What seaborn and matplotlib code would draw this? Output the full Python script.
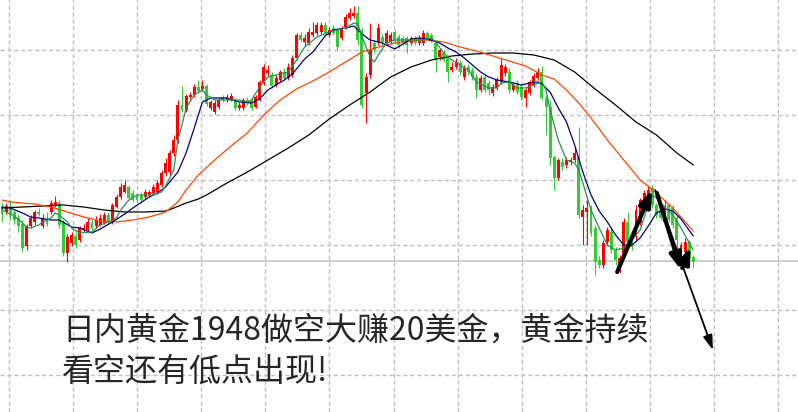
import numpy as np
import pandas as pd
import matplotlib
matplotlib.use("Agg")
import matplotlib.pyplot as plt
import seaborn as sns

# candle data (index = bar number)
opens = [1793, 1788, 1794, 1788, 1782, 1776, 1754, 1774, 1778, 1788,
         1774, 1782, 1788, 1795, 1797, 1778, 1747, 1757, 1764, 1760,
         1770, 1770, 1777, 1774, 1775, 1777, 1785, 1778, 1793, 1803,
         1808, 1813, 1807, 1805, 1805, 1803, 1805, 1807, 1808, 1815,
         1827, 1828, 1847, 1860, 1895, 1890, 1903, 1905, 1913, 1911,
         1914, 1892, 1888, 1893, 1903, 1900, 1900, 1900, 1892, 1892,
         1900, 1900, 1893, 1900, 1917, 1927, 1925, 1915, 1920, 1928,
         1922, 1925, 1942, 1965, 1958, 1957, 1965, 1967, 1968, 1975,
         1965, 1972, 1970, 1962, 1973, 1982, 1984, 1987, 1970, 1907,
         1925, 1957, 1958, 1963, 1957, 1958, 1968, 1963, 1962, 1962,
         1957, 1962, 1957, 1957, 1967, 1965, 1957, 1943, 1947, 1943,
         1930, 1933, 1937, 1923, 1933, 1930, 1923, 1910, 1923, 1917,
         1907, 1912, 1918, 1927, 1928, 1910, 1917, 1913, 1902, 1907,
         1915, 1922, 1928, 1902, 1893, 1843, 1822, 1838, 1835, 1838,
         1840, 1843, 1783, 1788, 1793, 1772, 1740, 1735, 1758, 1768,
         1750, 1733, 1745, 1778, 1765, 1763, 1777, 1793, 1800, 1812,
         1795, 1790, 1778, 1795, 1792, 1782, 1745, 1748, 1758, 1743]
closes = [1786, 1794, 1786, 1780, 1774, 1752, 1774, 1782, 1788, 1786,
          1781, 1776, 1797, 1798, 1775, 1747, 1763, 1765, 1755, 1772,
          1772, 1778, 1772, 1780, 1782, 1785, 1778, 1795, 1803, 1813,
          1815, 1802, 1800, 1800, 1800, 1808, 1808, 1813, 1817, 1827,
          1837, 1847, 1860, 1895, 1890, 1904, 1905, 1913, 1909, 1914,
          1896, 1898, 1897, 1900, 1900, 1903, 1904, 1892, 1895, 1900,
          1897, 1892, 1903, 1918, 1933, 1930, 1914, 1922, 1928, 1922,
          1933, 1942, 1965, 1960, 1962, 1968, 1968, 1975, 1975, 1967,
          1970, 1967, 1953, 1972, 1983, 1987, 1987, 1960, 1895, 1923,
          1950, 1950, 1972, 1958, 1967, 1965, 1960, 1955, 1958, 1955,
          1962, 1957, 1962, 1967, 1962, 1960, 1940, 1950, 1940, 1928,
          1933, 1938, 1928, 1932, 1928, 1923, 1910, 1922, 1910, 1910,
          1913, 1920, 1935, 1933, 1910, 1915, 1908, 1903, 1910, 1918,
          1924, 1928, 1902, 1893, 1842, 1822, 1840, 1833, 1840, 1840,
          1847, 1785, 1790, 1792, 1767, 1738, 1735, 1757, 1770, 1750,
          1740, 1742, 1778, 1758, 1753, 1790, 1800, 1807, 1810, 1795,
          1785, 1782, 1793, 1780, 1775, 1760, 1755, 1758, 1742, 1738]
highs = [1797, 1797, 1800, 1790, 1786, 1780, 1776, 1785, 1790, 1792,
         1786, 1788, 1800, 1804, 1800, 1780, 1766, 1768, 1768, 1774,
         1776, 1782, 1780, 1784, 1786, 1788, 1788, 1797, 1806, 1817,
         1820, 1815, 1810, 1807, 1808, 1811, 1810, 1816, 1820, 1830,
         1842, 1850, 1865, 1900, 1914, 1906, 1908, 1916, 1920, 1920,
         1916, 1900, 1900, 1902, 1905, 1906, 1907, 1902, 1898, 1902,
         1903, 1902, 1905, 1920, 1936, 1935, 1928, 1925, 1930, 1932,
         1937, 1945, 1967, 1968, 1966, 1972, 1978, 1978, 1978, 1978,
         1973, 1975, 1972, 1974, 1986, 1992, 1994, 1994, 1973, 1927,
         1977, 1960, 1977, 1966, 1970, 1968, 1970, 1966, 1965, 1964,
         1964, 1964, 1965, 1970, 1969, 1967, 1960, 1952, 1950, 1945,
         1938, 1942, 1940, 1935, 1936, 1933, 1926, 1925, 1926, 1920,
         1916, 1923, 1942, 1936, 1932, 1918, 1920, 1916, 1912, 1920,
         1927, 1932, 1934, 1905, 1900, 1845, 1842, 1842, 1843, 1843,
         1853, 1873, 1795, 1800, 1795, 1775, 1744, 1760, 1773, 1772,
         1753, 1745, 1782, 1788, 1768, 1795, 1802, 1810, 1815, 1815,
         1797, 1793, 1800, 1797, 1795, 1785, 1758, 1762, 1760, 1745]
lows = [1778, 1786, 1780, 1776, 1768, 1748, 1750, 1772, 1775, 1784,
        1772, 1774, 1786, 1793, 1772, 1744, 1738, 1754, 1752, 1758,
        1768, 1768, 1770, 1772, 1774, 1776, 1776, 1776, 1792, 1801,
        1807, 1800, 1798, 1798, 1797, 1801, 1803, 1805, 1806, 1813,
        1824, 1825, 1844, 1857, 1888, 1888, 1901, 1903, 1907, 1909,
        1894, 1890, 1886, 1891, 1898, 1898, 1899, 1890, 1890, 1890,
        1895, 1890, 1892, 1899, 1915, 1924, 1912, 1913, 1918, 1920,
        1920, 1923, 1940, 1958, 1955, 1955, 1963, 1965, 1966, 1965,
        1963, 1965, 1950, 1960, 1971, 1980, 1982, 1955, 1892, 1877,
        1922, 1947, 1955, 1955, 1955, 1956, 1957, 1952, 1955, 1947,
        1955, 1955, 1955, 1955, 1960, 1958, 1928, 1940, 1938, 1918,
        1928, 1931, 1925, 1920, 1925, 1920, 1902, 1908, 1908, 1905,
        1904, 1910, 1916, 1924, 1907, 1908, 1906, 1900, 1893, 1905,
        1913, 1920, 1900, 1865, 1835, 1810, 1820, 1830, 1832, 1835,
        1838, 1782, 1755, 1755, 1764, 1725, 1732, 1732, 1755, 1747,
        1735, 1727, 1742, 1756, 1750, 1760, 1775, 1791, 1798, 1792,
        1782, 1780, 1776, 1778, 1772, 1752, 1735, 1745, 1740, 1732]

# moving averages (bar index, value)
ma_black_idx = [0, 5, 10, 15, 20, 25, 30, 35, 40, 42, 45, 48, 50, 55, 60, 65, 70, 75, 80,
                85, 90, 95, 100, 105, 110, 115, 120, 125, 130, 135, 140, 145, 150, 155,
                160, 165, 169]
ma_black = [1792, 1793, 1794, 1795, 1793, 1790, 1788, 1788, 1789, 1792, 1797, 1801, 1805,
            1817, 1828, 1840, 1852, 1865, 1881, 1895, 1908, 1923, 1933, 1940, 1944, 1946,
            1947, 1947, 1945, 1940, 1928, 1911, 1895, 1878, 1865, 1847, 1835]

ma_orange_idx = [0, 2, 8, 12, 16, 20, 24, 28, 32, 36, 40, 43, 45, 48, 52, 56, 60, 64, 68, 72,
                 76, 80, 84, 88, 92, 96, 100, 104, 108, 112, 116, 120, 124, 128, 132, 135,
                 138, 141, 144, 148, 152, 156, 160, 164, 169]
ma_orange = [1800, 1798, 1796, 1793, 1788, 1783, 1779, 1778, 1780, 1783, 1788, 1798, 1810,
             1825, 1840, 1854, 1867, 1885, 1900, 1911, 1919, 1928, 1938, 1948, 1953, 1957,
             1959, 1960, 1958, 1953, 1949, 1944, 1939, 1934, 1925, 1921, 1910, 1897, 1882,
             1860, 1840, 1820, 1807, 1792, 1769]

ma_blue_idx = [0, 2, 5, 7, 9, 12, 14, 17, 19, 22, 24, 27, 30, 32, 36, 38, 40, 43, 45, 47,
               49, 51, 55, 58, 61, 63, 65, 69, 71, 74, 76, 79, 81, 84, 86, 88, 90, 93, 95,
               96, 98, 100, 102, 104, 107, 109, 111, 113, 115, 117, 119, 121, 124, 127,
               129, 131, 132, 134, 136, 138, 140, 142, 144, 146, 148, 150, 152, 154, 156,
               158, 160, 162, 164, 166, 169]
ma_blue = [1793, 1792, 1787, 1783, 1782, 1780, 1780, 1773, 1772, 1767, 1771, 1778, 1786,
           1792, 1803, 1807, 1813, 1828, 1847, 1872, 1898, 1902, 1902, 1898, 1897, 1901,
           1910, 1920, 1926, 1941, 1948, 1964, 1970, 1972, 1974, 1966, 1960, 1957, 1953,
           1951, 1956, 1961, 1962, 1961, 1957, 1952, 1948, 1942, 1935, 1928, 1923, 1920,
           1918, 1915, 1917, 1918, 1916, 1908, 1892, 1878, 1855, 1828, 1805, 1789, 1778,
           1765, 1755, 1755, 1762, 1774, 1787, 1791, 1789, 1781, 1764]

ma_green_idx = [0, 2, 4, 6, 7, 9, 10, 12, 13, 14, 16, 17, 19, 22, 24, 26, 28, 29, 31, 33,
                35, 37, 39, 40, 42, 43, 44, 45, 47, 49, 50, 52, 55, 58, 60, 61, 63, 65, 67,
                70, 72, 74, 77, 80, 84, 86, 87, 88, 90, 91, 92, 94, 96, 100, 103, 105, 106,
                108, 110, 112, 114, 116, 119, 121, 122, 124, 126, 128, 130, 132, 133, 134,
                136, 138, 140, 141, 142, 144, 146, 148, 150, 152, 154, 156, 158, 159, 160,
                162, 164, 166, 168, 169]
ma_green = [1790, 1786, 1781, 1773, 1772, 1775, 1778, 1782, 1787, 1785, 1778, 1772, 1767,
            1768, 1775, 1778, 1782, 1790, 1800, 1805, 1805, 1805, 1808, 1814, 1830, 1860,
            1875, 1892, 1905, 1910, 1905, 1900, 1900, 1900, 1898, 1900, 1913, 1923, 1925,
            1928, 1940, 1953, 1963, 1968, 1972, 1977, 1976, 1963, 1943, 1938, 1945, 1957,
            1960, 1960, 1960, 1962, 1958, 1947, 1940, 1935, 1930, 1918, 1912, 1912, 1917,
            1918, 1912, 1912, 1915, 1918, 1910, 1890, 1860, 1840, 1837, 1830, 1817, 1790,
            1772, 1755, 1750, 1752, 1760, 1770, 1795, 1805, 1802, 1793, 1785, 1772, 1757,
            1750]

last_price = 1739

# drawn arrows: (start bar, start price, end bar, end price)
arrows_thick = [(150.4, 1728, 158.9, 1810),
                (160.1, 1807, 166.0, 1730),
                (166.3, 1732, 168.3, 1753)]
arrow_thin = (159.7, 1810, 173.8, 1650)

title_lines = ["日内黄金1948做空大赚20美金，黄金持续", "看空还有低点出现!"]

sns.set_style("white")
plt.rcParams["font.family"] = ["Noto Sans CJK SC", "DejaVu Sans"]

fig = plt.figure(figsize=(7.98, 4.12), dpi=100)
ax = fig.add_axes([0, 0, 1, 1])

df = pd.DataFrame({"bar": np.arange(len(opens)), "open": opens, "close": closes,
                   "high": highs, "low": lows})
up = df["close"] >= df["open"]
colors = np.where(up, "#ff0000", "#32cd32")

# wicks and bodies
ax.vlines(df["bar"], df["low"], df["high"], colors=colors, lw=0.8, zorder=2)
body_bottom = np.minimum(df["open"], df["close"])
body_h = np.maximum((df["close"] - df["open"]).abs(), 1)
ax.bar(df["bar"], body_h, bottom=body_bottom, width=0.72, color=colors,
       linewidth=0, zorder=2)

# moving averages
sns.lineplot(x=ma_black_idx, y=ma_black, color="black", lw=0.9, ax=ax, zorder=3)
sns.lineplot(x=ma_orange_idx, y=ma_orange, color="#ff4500", lw=0.9, ax=ax, zorder=3)
sns.lineplot(x=ma_blue_idx, y=ma_blue, color="#000080", lw=0.9, ax=ax, zorder=3)
sns.lineplot(x=ma_green_idx, y=ma_green, color="#2e8b57", lw=0.9, ax=ax, zorder=3)

ax.axhline(last_price, color="#c0c0c0", lw=1.1, zorder=1)

for x0, y0, x1, y1 in arrows_thick:
    ax.annotate("", xy=(x1, y1), xytext=(x0, y0),
                arrowprops=dict(arrowstyle="-|>,head_length=0.95,head_width=0.35",
                                mutation_scale=10, lw=3, color="black",
                                shrinkA=0, shrinkB=0), zorder=4)
x0, y0, x1, y1 = arrow_thin
ax.annotate("", xy=(x1, y1), xytext=(x0, y0),
            arrowprops=dict(arrowstyle="-|>,head_length=1.1,head_width=0.35",
                            mutation_scale=8, lw=1.3, color="black",
                            shrinkA=0, shrinkB=0), zorder=4)

# chart window
ax.set_xlim(-0.49, 194.6)
ax.set_ylim(1588, 2000)
ax.set_xticks(np.arange(1.71, 195, 15.67))
ax.set_yticks([1950, 1885, 1820, 1755, 1690, 1625])
ax.tick_params(length=0, labelbottom=False, labelleft=False)
ax.grid(True, color="#c0c0c0", ls=(0, (3, 2)), lw=1.0)
ax.set_axisbelow(True)
ax.set_xlabel("")
ax.set_ylabel("")
for s in ax.spines.values():
    s.set_visible(False)

fig.text(62 / 798, 1 - 331 / 412, title_lines[0], fontsize=23, va="center", ha="left")
fig.text(62 / 798, 1 - 372 / 412, title_lines[1], fontsize=23, va="center", ha="left")

fig.savefig("out.png", dpi=100)
